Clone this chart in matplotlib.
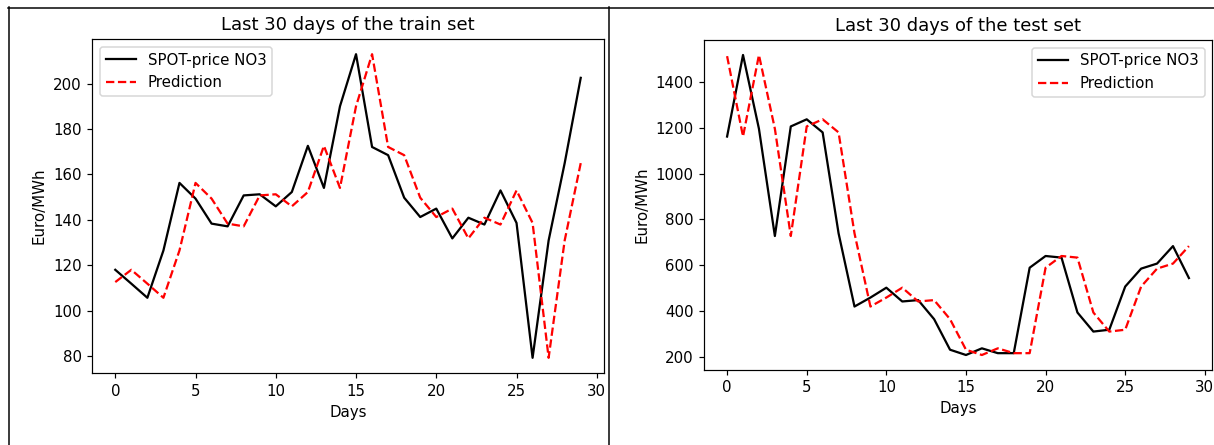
import numpy as np
from matplotlib import pyplot as plt
from matplotlib.lines import Line2D

# last 30 days of the train set (Euro/MWh)
train_days = list(range(30))
train_actual = [118.1, 112.0, 105.8, 126.6, 156.3, 149.4, 138.4, 137.2, 150.8, 151.3,
                146.0, 152.3, 172.6, 154.1, 190.0, 212.9, 172.1, 168.5, 149.8, 141.3,
                145.0, 131.9, 141.0, 138.0, 153.0, 138.7, 79.4, 131.0, 165.0, 202.5]
train_pred = [112.7, 118.1, 112.0, 105.8, 126.6, 156.3, 149.4, 138.4, 137.2, 150.8,
              151.3, 146.0, 152.3, 172.6, 154.1, 190.0, 212.9, 172.1, 168.5, 149.8,
              141.3, 145.0, 131.9, 141.0, 138.0, 153.0, 138.7, 79.4, 131.0, 165.0]

# last 30 days of the test set (Euro/MWh)
test_days = list(range(30))
test_actual = [1161, 1516, 1195, 728, 1205, 1236, 1179, 740, 421, 460,
               503, 443, 449, 366, 233, 210, 239, 218, 218, 590,
               641, 634, 395, 312, 320, 508, 586, 608, 684, 545]
test_pred = [1511, 1161, 1516, 1195, 728, 1205, 1236, 1179, 740, 421,
             460, 503, 443, 449, 366, 233, 210, 239, 218, 218,
             590, 641, 634, 395, 312, 320, 508, 586, 608, 684]

W, H = 1214, 445
DPI = 108  # screenshot looks like a 72 dpi notebook figure blown up 1.5x
fig = plt.figure(figsize=(W / DPI, H / DPI), dpi=DPI)


def box(l, t, r, b):
    # pixel box -> figure fraction
    return [l / W, 1 - b / H, (r - l) / W, (b - t) / H]


ax1 = fig.add_axes(box(92, 39, 604, 373))
ax1.plot(train_days, train_actual, color="black", label="SPOT-price NO3")
ax1.plot(train_days, train_pred, color="red", linestyle="--", label="Prediction")
ax1.set_title("Last 30 days of the train set", fontsize=12)
ax1.set_xlabel("Days")
ax1.set_ylabel("Euro/MWh")
ax1.legend(loc="upper left")

ax2 = fig.add_axes(box(704, 40, 1212, 370))
ax2.plot(test_days, test_actual, color="black", label="SPOT-price NO3")
ax2.plot(test_days, test_pred, color="red", linestyle="--", label="Prediction")
ax2.set_title("Last 30 days of the test set", fontsize=12)
ax2.set_xlabel("Days")
ax2.set_ylabel("Euro/MWh")
ax2.legend(loc="upper right")

# screenshot frame lines
def hline(x0, x1, y, lw=1.0):
    fig.add_artist(Line2D([x0 / W, x1 / W], [1 - y / H, 1 - y / H], color="black", lw=lw))

def vline(x, y0, y1, lw=1.0):
    fig.add_artist(Line2D([x / W, x / W], [1 - y0 / H, 1 - y1 / H], color="black", lw=lw))

hline(8, W, 7.5)
vline(8.5, 7, H)
vline(609, 7, H)

fig.savefig("out.png", dpi=DPI)
